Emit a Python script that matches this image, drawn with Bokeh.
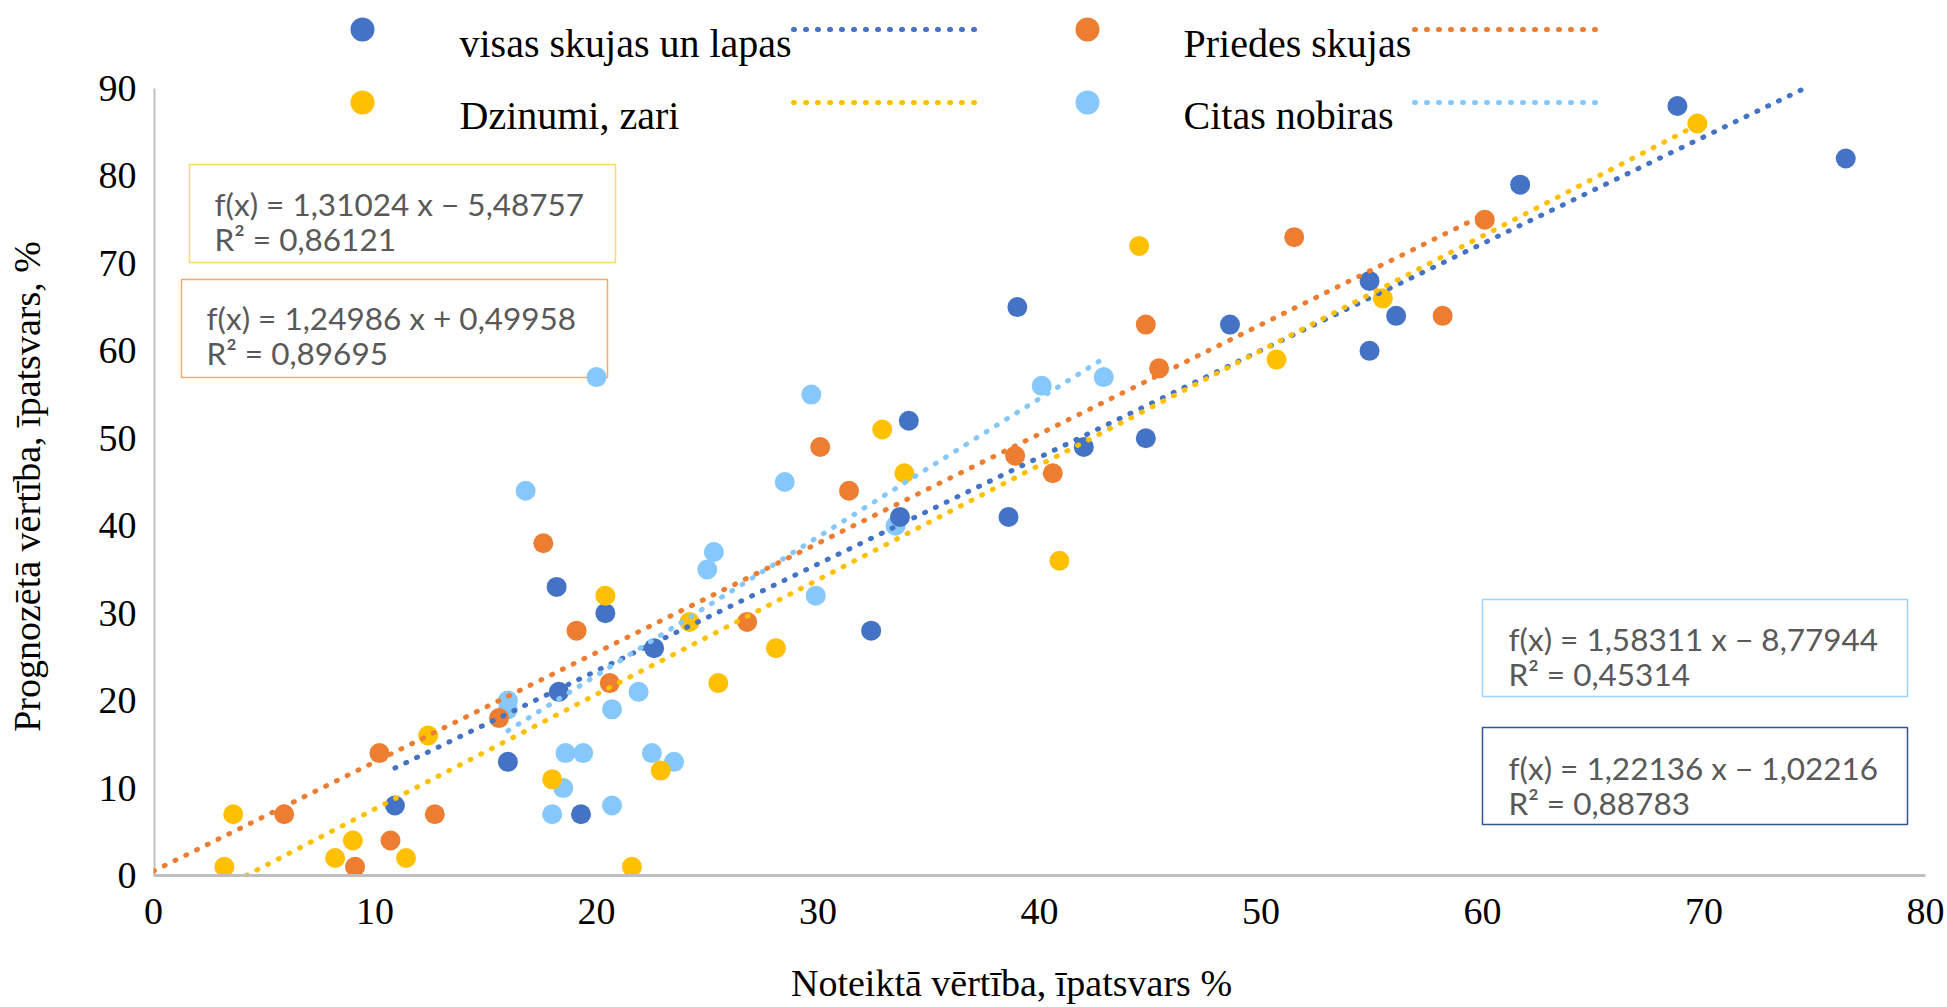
import math

from bokeh.core.properties import value
from bokeh.embed import file_html
from bokeh.layouts import column, row
from bokeh.models import FixedTicker, Range1d
from bokeh.plotting import figure
from bokeh.resources import INLINE

# ---- data: measured share (x) vs predicted share (y), % ----
visas_x = [10.9, 16.0, 18.2, 18.3, 19.3, 20.4, 22.6, 32.4, 33.7, 34.1, 38.6,
           39.0, 42.0, 44.8, 48.6, 54.9, 54.9, 56.1, 61.7, 68.8, 76.4]
visas_y = [8, 13, 33, 21, 7, 30, 26, 28, 41, 52, 41,
           65, 49, 50, 63, 68, 60, 64, 79, 88, 82]

priedes_x = [5.9, 9.1, 10.2, 10.7, 12.7, 15.6, 17.6, 19.1, 20.6, 26.8,
             30.1, 31.4, 38.9, 40.6, 44.8, 45.4, 51.5, 58.2, 60.1]
priedes_y = [7, 1, 14, 4, 7, 18, 38, 28, 22, 29,
             49, 44, 48, 46, 63, 58, 73, 64, 75]

dzinumi_x = [3.2, 3.6, 8.2, 9.0, 11.4, 12.4, 18.0, 20.4, 21.6, 22.9,
             24.2, 25.5, 28.1, 32.9, 33.9, 40.9, 44.5, 50.7, 55.5, 69.7]
dzinumi_y = [1, 7, 2, 4, 2, 16, 11, 32, 1, 12,
             29, 22, 26, 51, 46, 36, 72, 59, 66, 86]

citas_x = [16.0, 16.0, 16.8, 18.0, 18.5, 18.6, 19.4, 20.0, 20.7, 20.7, 21.9,
           22.5, 23.5, 25.0, 25.3, 28.5, 29.7, 29.9, 33.5, 40.1, 42.9]
citas_y = [20, 19, 44, 7, 10, 14, 14, 57, 19, 8, 21,
           14, 13, 35, 37, 45, 55, 32, 40, 56, 57]

series_names = ["visas skujas un lapas", "Priedes skujas", "Dzinumi, zari", "Citas nobiras"]

# linear trend lines: slope, intercept, R^2
trend_slope = [1.22136, 1.24986, 1.31024, 1.58311]
trend_intercept = [-1.02216, 0.49958, -5.48757, -8.77944]
trend_r2 = [0.88783, 0.89695, 0.86121, 0.45314]
trend_backward_to = [None, 0.0, None, None]   # Priedes trend is forecast back to x = 0

x_ticks = [0, 10, 20, 30, 40, 50, 60, 70, 80]
y_ticks = [0, 10, 20, 30, 40, 50, 60, 70, 80, 90]

x_title = "Noteiktā vērtība, īpatsvars %"
y_title = "Prognozētā vērtība, īpatsvars, %"

# ---- styling ----
colors = ["#4472C4", "#ED7D31", "#FFC000", "#86C8FC"]
box_border = ["#2F5597", "#F5AA66", "#FFD966", "#9DD3FF"]
SERIF = "Liberation Serif"
AXIS_GRAY = "#BFBFBF"

# ---- page geometry (pixels) ----
W, H = 1947, 1007
TITLE_L_W = 60          # strip left of the chart holding the vertical title
TITLE_B_H = 50          # strip under the chart holding the horizontal title
FRAME_L, FRAME_R, FRAME_B = 153, 1925, 875
Y90_PX = 88             # pixel row where y = 90 sits
X_MAX, Y_MAX = 80, 90
px_per_y = (FRAME_B - Y90_PX) / Y_MAX
y_end = FRAME_B / px_per_y       # frame reaches the top of the canvas (legend lives there)
X_TITLE_BASELINE = 25            # x-title baseline, pixels above the strip's bottom edge


def sx(px):
    return (px - FRAME_L) / (FRAME_R - FRAME_L) * X_MAX


def sy(py):
    return (FRAME_B - py) / px_per_y


def bare(width, height, x_range, y_range, left=0, right=0):
    f = figure(width=width, height=height, output_backend="svg", toolbar_location=None,
               x_range=x_range, y_range=y_range, x_axis_location=None, y_axis_location=None,
               min_border_left=left, min_border_right=right,
               min_border_top=0, min_border_bottom=0)
    f.outline_line_color = None
    f.grid.visible = False
    return f


main_w = W - TITLE_L_W
main_h = H - TITLE_B_H
p = figure(width=main_w, height=main_h, output_backend="svg", toolbar_location=None,
           x_range=Range1d(0, X_MAX), y_range=Range1d(0, y_end),
           min_border_left=FRAME_L - TITLE_L_W, min_border_right=W - FRAME_R,
           min_border_top=0, min_border_bottom=main_h - FRAME_B)
p.outline_line_color = None
p.grid.visible = False
p.background_fill_color = "white"

for ax in (p.xaxis, p.yaxis):
    ax.major_tick_line_color = None
    ax.minor_tick_line_color = None
    ax.major_label_text_font = SERIF
    ax.major_label_text_font_size = "38px"
    ax.major_label_text_color = "black"
p.xaxis.ticker = FixedTicker(ticks=x_ticks)
p.yaxis.ticker = FixedTicker(ticks=y_ticks)
p.xaxis.axis_line_color = AXIS_GRAY
p.xaxis.axis_line_width = 3
p.xaxis.major_label_standoff = 17
p.yaxis.axis_line_color = None
p.yaxis.major_label_standoff = 11

# vertical value axis only up to 90
p.segment(x0=[0], y0=[0], x1=[0], y1=[Y_MAX], line_color=AXIS_GRAY, line_width=4)

# ---- equation boxes (pixel layout: left, right, top, bottom, text x, baselines) ----
eq_boxes = [
    (1482, 1907, 727, 824, 1508, 767, 802),   # visas
    (181, 607, 279, 377, 206, 317, 352),      # priedes
    (189, 615, 164, 262, 214, 203, 238),      # dzinumi
    (1482, 1907, 599, 696, 1508, 638, 673),   # citas
]


def fmt(v):
    return f"{v:.5f}".replace(".", ",")


for i, (l, r, t, b, tx, b1, b2) in enumerate(eq_boxes):
    p.quad(left=[sx(l)], right=[sx(r)], top=[sy(t)], bottom=[sy(b)],
           fill_color="white", line_color=box_border[i], line_width=1.5)
    m, c = trend_slope[i], trend_intercept[i]
    sign = "+" if c >= 0 else "−"
    line1 = f"f(x) = {fmt(m)} x {sign} {fmt(abs(c))}"
    line2 = f"R² = {fmt(trend_r2[i])}"
    p.text(x=[sx(tx), sx(tx)], y=[sy(b1), sy(b2)], text=[line1, line2],
           text_font=value("Lato"), text_font_size="31.5px", text_color="#595959",
           text_align="left", text_baseline="alphabetic")

# ---- scatter points ----
xs = [visas_x, priedes_x, dzinumi_x, citas_x]
ys = [visas_y, priedes_y, dzinumi_y, citas_y]
for i in (3, 0, 1, 2):
    p.scatter(xs[i], ys[i], size=20, fill_color=colors[i], line_color=None)

# ---- dotted trend lines, kept inside 0..90 ----
for i in range(4):
    m, c = trend_slope[i], trend_intercept[i]
    x0 = min(xs[i]) if trend_backward_to[i] is None else trend_backward_to[i]
    x1 = max(xs[i])
    if m * x0 + c < 0:
        x0 = -c / m
    if m * x1 + c > Y_MAX:
        x1 = (Y_MAX - c) / m
    p.line([x0, x1], [m * x0 + c, m * x1 + c], line_color=colors[i], line_width=5,
           line_dash="1 11", line_cap="round")

# ---- legend (two rows, two columns) ----
legend_cols = [(362, 459, 793, 976), (1087, 1183, 1414, 1595)]   # marker x, text x, line from, line to
legend_rows = [(29, 43), (102, 115)]                             # marker/line y, text baseline
legend_slots = [(0, 0), (0, 1), (1, 0), (1, 1)]                  # (row, col) per series
for i, (r_, c_) in enumerate(legend_slots):
    mx, tx, l0, l1 = legend_cols[c_]
    my, tb = legend_rows[r_]
    p.scatter([sx(mx)], [sy(my)], size=24, fill_color=colors[i], line_color=None)
    p.text(x=[sx(tx)], y=[sy(tb)], text=[series_names[i]], text_font=value(SERIF),
           text_font_size="40px", text_color="black", text_align="left",
           text_baseline="alphabetic")
    p.line([sx(l0), sx(l1)], [sy(my), sy(my)], line_color=colors[i], line_width=5,
           line_dash="1 11", line_cap="round")

# ---- axis titles, each in its own strip (page pixel coordinates, y measured upward) ----
ytitle_fig = bare(TITLE_L_W, H, Range1d(0, TITLE_L_W), Range1d(0, H))
ytitle_fig.text(x=[26], y=[H - 486], text=[y_title], angle=math.pi / 2,
                text_font=value(SERIF), text_font_size="38px", text_color="black",
                text_align="center", text_baseline="alphabetic")

# the strip shares the chart's left/right borders, so its frame spans FRAME_L..FRAME_R
xtitle_fig = bare(main_w, TITLE_B_H, Range1d(FRAME_L, FRAME_R), Range1d(0, TITLE_B_H),
                  left=FRAME_L - TITLE_L_W, right=W - FRAME_R)
xtitle_fig.text(x=[1011], y=[X_TITLE_BASELINE], text=[x_title],
                text_font=value(SERIF), text_font_size="38px", text_color="black",
                text_align="center", text_baseline="alphabetic")

layout = row(ytitle_fig, column(p, xtitle_fig, spacing=0), spacing=0)
open("out.html", "w").write(file_html(layout, INLINE))
